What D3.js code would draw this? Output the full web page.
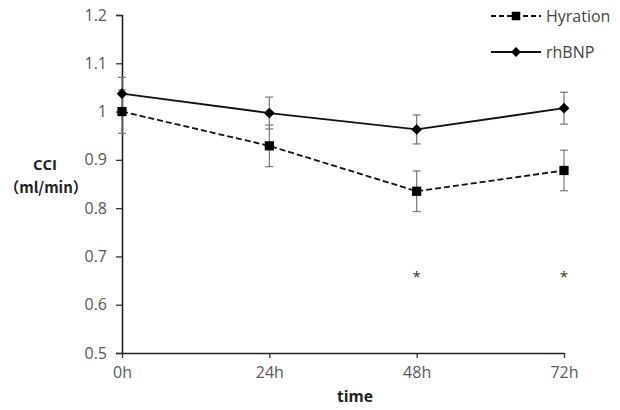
<!DOCTYPE html>
<html>
<head>
<meta charset="utf-8">
<script src="https://cdn.jsdelivr.net/npm/d3@7"></script>
<style>
  body { margin: 0; background: #fff; }
  text { font-family: "Open Sans", "Noto Sans", sans-serif; }
</style>
</head>
<body>
<div id="root"></div>
<script>
const times = ["0h", "24h", "48h", "72h"]
const yTicks = [0.5, 0.6, 0.7, 0.8, 0.9, 1, 1.1, 1.2]
const hyration = [1.0, 0.929, 0.835, 0.878]
const hyrationErr = [0.045, 0.043, 0.042, 0.042]
const rhbnp = [1.037, 0.997, 0.963, 1.007]
const rhbnpErr = [0.034, 0.033, 0.030, 0.033]
const starTimes = ["48h", "72h"]
const starValue = 0.665

const w = 620
const h = 410
const margin = { top: 15, right: 56, bottom: 57, left: 122 }

const svg = d3.select("#root")
    .append("svg")
    .attr("width", w)
    .attr("height", h)

const x = d3.scalePoint()
    .domain(times)
    .range([margin.left, w - margin.right])

const y = d3.scaleLinear()
    .domain([0.5, 1.2])
    .range([h - margin.bottom, margin.top])

// axes
const yAxis = svg.append("g")
    .attr("transform", `translate(${margin.left},0)`)
    .call(d3.axisLeft(y).tickValues(yTicks).tickFormat(d => d3.format("")(d)).tickSize(6).tickPadding(9))
yAxis.select(".domain").attr("stroke", "#222").attr("stroke-width", 1.6)
yAxis.selectAll(".tick line").attr("stroke", "#333").attr("stroke-width", 1.3)
yAxis.selectAll("text").attr("font-size", 16).attr("fill", "#595959")

const xAxis = svg.append("g")
    .attr("transform", `translate(0,${h - margin.bottom})`)
    .call(d3.axisBottom(x).tickSize(5).tickPadding(9).tickSizeOuter(0))
xAxis.select(".domain").attr("stroke", "#222").attr("stroke-width", 1.6)
xAxis.selectAll(".tick line").attr("stroke", "#333").attr("stroke-width", 1.3)
xAxis.selectAll("text").attr("font-size", 16).attr("fill", "#595959")

// axis titles
svg.append("text")
    .attr("x", 355).attr("y", 402)
    .attr("text-anchor", "middle")
    .attr("font-size", 15.5).attr("font-weight", "bold").attr("fill", "#222")
    .text("time")
svg.append("text")
    .attr("x", 45).attr("y", 170)
    .attr("text-anchor", "middle")
    .attr("font-size", 15).attr("font-weight", "bold").attr("fill", "#222")
    .text("CCI")
svg.append("text")
    .attr("x", 46).attr("y", 193)
    .attr("text-anchor", "middle")
    .attr("font-size", 15).attr("font-weight", "bold").attr("fill", "#222")
    .style("font-family", "'Noto Sans CJK SC', 'Open Sans', sans-serif")
    .text("（ml/min）")

const series = [
    { name: "Hyration", values: hyration, err: hyrationErr, dash: "6,3", symbol: d3.symbolSquare, size: 85, rot: 0 },
    { name: "rhBNP", values: rhbnp, err: rhbnpErr, dash: null, symbol: d3.symbolSquare, size: 58, rot: 45 }
]

const line = d3.line()
    .x((d, i) => x(times[i]))
    .y(d => y(d))

// error bars
series.forEach(s => {
    const g = svg.append("g").attr("stroke", "#777").attr("stroke-width", 1.2)
    s.values.forEach((v, i) => {
        const cx = x(times[i])
        g.append("line").attr("x1", cx).attr("x2", cx).attr("y1", y(v - s.err[i])).attr("y2", y(v + s.err[i]))
        g.append("line").attr("x1", cx - 4).attr("x2", cx + 4).attr("y1", y(v - s.err[i])).attr("y2", y(v - s.err[i]))
        g.append("line").attr("x1", cx - 4).attr("x2", cx + 4).attr("y1", y(v + s.err[i])).attr("y2", y(v + s.err[i]))
    })
})

// lines and markers
series.forEach(s => {
    svg.append("path")
        .attr("d", line(s.values))
        .attr("fill", "none")
        .attr("stroke", "#111")
        .attr("stroke-width", 1.8)
        .attr("stroke-dasharray", s.dash)
    svg.selectAll(null)
        .data(s.values)
        .enter()
        .append("path")
        .attr("d", d3.symbol().type(s.symbol).size(s.size))
        .attr("transform", (d, i) => `translate(${x(times[i])},${y(d)}) rotate(${s.rot})`)
        .attr("fill", "#000")
})

// significance marks
svg.selectAll("text.star")
    .data(starTimes)
    .enter()
    .append("text")
    .attr("class", "star")
    .attr("x", d => x(d))
    .attr("y", y(starValue) + 9)
    .attr("text-anchor", "middle")
    .attr("font-size", 15)
    .attr("fill", "#333")
    .text("*")

// legend
const legend = svg.append("g")
series.forEach((s, i) => {
    const ly = 16 + i * 36
    legend.append("line")
        .attr("x1", 491).attr("x2", 541).attr("y1", ly).attr("y2", ly)
        .attr("stroke", "#111").attr("stroke-width", 1.8)
        .attr("stroke-dasharray", s.dash ? "5,3" : null)
    legend.append("path")
        .attr("d", d3.symbol().type(s.symbol).size(s.size * 0.85))
        .attr("transform", `translate(516,${ly}) rotate(${s.rot})`)
        .attr("fill", "#000")
    legend.append("text")
        .attr("x", 546).attr("y", ly + 6)
        .attr("font-size", 16).attr("fill", "#444")
        .text(s.name)
})
</script>
</body>
</html>
